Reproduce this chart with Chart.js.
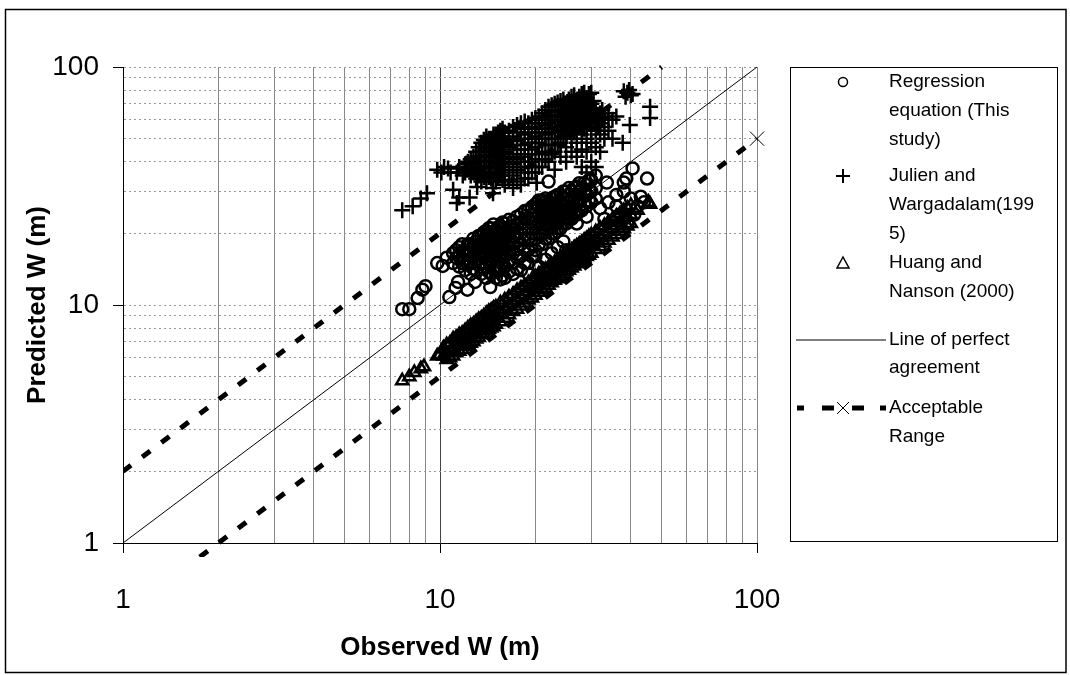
<!DOCTYPE html>
<html><head><meta charset="utf-8">
<script src="https://cdn.jsdelivr.net/npm/chart.js@4.4.1/dist/chart.umd.min.js"></script>
<style>html,body{margin:0;padding:0;background:#fff;}#wrap{position:relative;width:1070px;height:675px;}</style>
</head><body><div id="wrap"><canvas id="c" width="1070" height="675"></canvas></div>
<script>
const axisTickValues = [1,2,3,4,5,6,7,8,9,10,20,30,40,50,60,70,80,90,100];
const majorTickValues = [1,10,100];
const xTitle = "Observed W (m)";
const yTitle = "Predicted W (m)";
const seriesNames = ["Regression equation (This study)", "Julien and Wargadalam(1995)", "Huang and Nanson (2000)", "Line of perfect agreement", "Acceptable Range"];
const legendTextLines = [["Regression","equation (This","study)"],["Julien and","Wargadalam(199","5)"],["Huang and","Nanson (2000)"],["Line of perfect","agreement"],["Acceptable","Range"]];

const regressionPts = [
[7.6,9.6],[8.0,9.6],[8.5,10.7],[8.8,11.6],[9.0,12.0],[9.8,15.0],[10.2,14.6],[10.5,15.8],[10.7,10.8],[11.2,11.8],[11.4,12.5],[12.2,11.6],[12.9,12.5],[14.4,11.9],
[11,15],[11,16.5],[11.5,14.5],[11.5,16],[11.5,17.5],[12,14],[12,15.5],[12,17],[12.5,13.5],[12.5,15],[12.5,16.5],[12.5,18],
[13,14],[13,15.5],[13,17],[13,18.5],[13.5,13.5],[13.5,15],[13.5,16.5],[13.5,18],[13.5,19.5],
[14,13],[14,14.5],[14,16],[14,17.5],[14,19],[14,20.5],[14.5,13.5],[14.5,15],[14.5,16.5],[14.5,18],[14.5,19.5],[14.5,21],
[15,13],[15,14.5],[15,16],[15,17.5],[15,19],[15,20.5],[15.5,12.8],[15.5,14],[15.5,15.5],[15.5,17],[15.5,18.5],[15.5,20],[15.5,21.5],
[16,13],[16,14.5],[16,16],[16,17.5],[16,19],[16,20.5],[16,22],[17,13.5],[17,15],[17,16.5],[17,18],[17,19.5],[17,21],[17,22.5],
[18,14],[18,16],[18,18],[18,20],[18,22],[18,24],[19,15],[19,17],[19,19],[19,21],[19,23],[19,25],
[20,17],[20,19],[20,21],[20,23],[20,25],[20,26.5],[21,18],[21,20],[21,22],[21,24],[21,26],[21,27.5],
[22,19],[22,21],[22,23],[22,25],[22,27],[23,20],[23,22],[23,24],[23,26],[23,28.5],[24,21],[24,23],[24,25],[24,27],[24,29],
[25,22],[25,24],[25,26],[25,28],[25,30],[26,23],[26,25],[26,27.5],[26,30],[27,24],[27,26.5],[27,29],[27,31.5],
[28,25],[28,28],[28,31],[29,26],[29,29],[29,32],[30,27],[30,30],[30,33.5],[31,28],[31,31],[31,35],
[11.25,15.8],[11.25,17],[11.75,15],[11.75,16.8],[11.75,18],[12.25,14.8],[12.25,16.2],[12.25,18],
[12.75,14.2],[12.75,15.8],[12.75,17.5],[12.75,19],[13.25,14.8],[13.25,16.2],[13.25,17.8],[13.25,19.5],
[13.75,14.2],[13.75,15.8],[13.75,17.2],[13.75,18.8],[13.75,20.2],[14.25,13.8],[14.25,15.2],[14.25,16.8],[14.25,18.2],[14.25,19.8],[14.25,21],
[14.75,14.2],[14.75,15.8],[14.75,17.2],[14.75,18.8],[14.75,20.2],[14.75,21.8],[15.25,13.8],[15.25,15.2],[15.25,16.8],[15.25,18.2],[15.25,19.8],[15.25,21.2],
[15.75,13.3],[15.75,14.8],[15.75,16.2],[15.75,17.8],[15.75,19.2],[15.75,20.8],[15.75,22.2],
[16.5,13.8],[16.5,15.2],[16.5,16.8],[16.5,18.2],[16.5,19.8],[16.5,21.2],[16.5,22.8],
[17.5,14.2],[17.5,15.8],[17.5,17.2],[17.5,18.8],[17.5,20.2],[17.5,21.8],[17.5,23.5],
[18.5,15],[18.5,17],[18.5,19],[18.5,21],[18.5,23],[18.5,24.8],[19.5,16],[19.5,18],[19.5,20],[19.5,22],[19.5,24],[19.5,25.8],
[20.5,18],[20.5,20],[20.5,22],[20.5,24],[20.5,26],[20.5,27.5],[21.5,19],[21.5,21],[21.5,23],[21.5,25],[21.5,27],[21.5,28],
[22.5,20],[22.5,22],[22.5,24],[22.5,26],[22.5,28],[23.5,21],[23.5,23],[23.5,25],[23.5,27],[23.5,29],
[24.5,22],[24.5,24],[24.5,26],[24.5,28],[24.5,30],[25.5,23],[25.5,25],[25.5,27],[25.5,29],[25.5,31],
[26.5,24],[26.5,26],[26.5,28.5],[26.5,31],[27.5,25],[27.5,27.5],[27.5,30],[27.5,32.5],[28.5,26.5],[28.5,29.5],[28.5,32.5],[29.5,27.5],[29.5,30.5],[29.5,33.5],
[19,13.5],[19.5,12.5],[20,16],[20.5,14.5],[21,13],[21.5,15.5],[22.5,16.5],[23.5,17.5],[24.5,18.5],[25,17],
[22,33],[33.6,32.7],[38,32.7],[38.7,34],[40.5,37.5],[45,34],[38,30],[36,29],[34,27],[32,25.5],[40,28],[42,26],[37,24],[39,22],[41,24],[35,21],[33,23],[27,22],[29,23.5],[36,26],[43,28.5],[44,27]
];

const julienPts = [
[7.6,25],[8.2,26],[8.7,28],[9.1,29.5],[9.8,37],[10.1,36],[10.3,38],[10.6,37.5],[10.8,36],[11.3,36],[11.5,38],[11.8,35],[12.2,37],
[11,30.5],[11.5,28.3],[12.4,28.3],[11.3,26.8],[13.1,31.3],[14.7,29.5],[14.7,31],[20.2,26.8],[20.2,32.6],
[46,68],[46,61],[39.7,57],[37.7,48],[39,78],[38.5,75],[40,76],[39.5,80],[38,79],[40.5,77],
[12,36],[12,39],[12.5,35],[12.5,38],[12.5,41],[13,34],[13,37],[13,40],[13,44],[13.5,33],[13.5,36],[13.5,40],[13.5,44],[13.5,48],
[14,33],[14,36],[14,40],[14,44],[14,48],[14,51],[14.5,34],[14.5,38],[14.5,42],[14.5,46],[14.5,50],
[15,33],[15,36],[15,40],[15,44],[15,48],[15,52],[15.5,35],[15.5,39],[15.5,43],[15.5,47],[15.5,51],[15.5,54],
[16,32],[16,36],[16,40],[16,44],[16,48],[16,53],[17,31],[17,35],[17,39],[17,43],[17,47],[17,51],[17,56],
[18,32],[18,36],[18,40],[18,45],[18,50],[18,55],[18,58],[19,34],[19,38],[19,43],[19,48],[19,53],[19,58],
[20,36],[20,41],[20,46],[20,51],[20,56],[20,61],[21,38],[21,44],[21,50],[21,55],[21,60],[21,64],
[22,40],[22,47],[22,53],[22,58],[22,63],[22,68],[23,37],[23,44],[23,50],[23,56],[23,62],[23,70],
[24,42],[24,48],[24,54],[24,60],[24,66],[24,72],[25,40],[25,46],[25,52],[25,58],[25,64],[25,70],
[26,44],[26,50],[26,56],[26,62],[26,68],[26,75],[27,42],[27,48],[27,54],[27,60],[27,66],[27,72],
[28,38],[28,45],[28,52],[28,58],[28,64],[28,70],[28,77],[29,36],[29,44],[29,50],[29,56],[29,62],[29,68],[29,74],
[30,40],[30,48],[30,55],[30,62],[30,70],[30,78],[31,38],[31,46],[31,54],[31,60],[31,66],
[32,44],[32,52],[32,58],[32,64],[33,50],[33,56],[33,62],[34,54],[34,60],[34,64],[35,50],[35,60],[36,62],
[12.25,37.5],[12.25,40],[12.75,36],[12.75,39],[12.75,42],[13.25,35],[13.25,38],[13.25,42],[13.25,46],
[13.75,34.5],[13.75,38],[13.75,42],[13.75,46],[13.75,49.5],[14.25,34.5],[14.25,38],[14.25,42],[14.25,46],[14.25,50],
[14.75,35.5],[14.75,40],[14.75,44],[14.75,48],[14.75,52],[15.25,34.5],[15.25,38],[15.25,42],[15.25,46],[15.25,50],[15.25,53],
[15.75,33.5],[15.75,37],[15.75,41],[15.75,45],[15.75,49],[15.75,53],[15.75,55],
[16.5,33.5],[16.5,38],[16.5,42],[16.5,46],[16.5,50],[16.5,54],[17.5,33],[17.5,37],[17.5,41],[17.5,45],[17.5,49],[17.5,53],[17.5,57],
[18.5,34],[18.5,38],[18.5,42],[18.5,47],[18.5,52],[18.5,56],[18.5,59],[19.5,36],[19.5,40],[19.5,45],[19.5,50],[19.5,55],[19.5,60],
[20.5,38],[20.5,43],[20.5,48],[20.5,53],[20.5,58],[20.5,62],[21.5,41],[21.5,47],[21.5,52],[21.5,57],[21.5,62],[21.5,66],
[22.5,43],[22.5,50],[22.5,55],[22.5,60],[22.5,65],[22.5,69],[23.5,47],[23.5,53],[23.5,59],[23.5,65],[23.5,71],
[24.5,51],[24.5,57],[24.5,63],[24.5,69],[24.5,73],[25.5,55],[25.5,61],[25.5,67],[25.5,73],
[26.5,53],[26.5,59],[26.5,65],[26.5,71],[26.5,76],[27.5,57],[27.5,63],[27.5,69],[27.5,75],
[28.5,55],[28.5,61],[28.5,67],[28.5,73],[28.5,78],[29.5,59],[29.5,65],[29.5,71],[29.5,77],[30.5,58],[30.5,65],[30.5,72],[31.5,56],[31.5,63],[32.5,61],[32.5,66]
];

const huangPts = [
[7.6,4.8],[8.0,5.0],[8.3,5.2],[8.7,5.4],[8.9,5.5],[9.8,6.1],[10,6.2],
[10.5,5.9],[10.5,6.3],[10.5,6.8],[11,6.1],[11,6.6],[11,7.2],[11.5,6.4],[11.5,6.9],[11.5,7.5],[12,6.7],[12,7.2],[12,7.8],
[12.5,6.9],[12.5,7.5],[12.5,8.2],[13,7.2],[13,7.8],[13,8.5],[13.5,7.5],[13.5,8.1],[13.5,8.8],[14,7.8],[14,8.4],[14,9.2],
[14.5,8.0],[14.5,8.7],[14.5,9.5],[15,8.3],[15,9.0],[15,9.8],[16,8.8],[16,9.6],[16,10.5],[17,9.4],[17,10.2],[17,11.1],
[18,9.9],[18,10.8],[18,11.8],[19,10.5],[19,11.4],[19,12.4],[20,11.0],[20,12.0],[20,13.1],[21,11.6],[21,12.6],[21,13.8],
[22,12.1],[22,13.2],[22,14.4],[23,12.7],[23,13.8],[23,15.1],[24,13.2],[24,14.4],[24,15.7],[25,13.8],[25,15.0],[25,16.4],
[26,14.3],[26,15.6],[26,17.0],[27,14.9],[27,16.2],[27,17.7],[28,15.4],[28,16.8],[28,18.3],[29,16.0],[29,17.4],[29,19.0],
[30,16.5],[30,18.0],[30,19.7],[32,17.6],[32,19.2],[32,21.0],[34,18.7],[34,20.4],[34,22.3],[36,19.8],[36,21.6],[36,23.6],
[38,20.9],[38,22.8],[38,24.9],[40,22.0],[40,24.0],[40,26.2],[42,25],[45.5,27],[46,26.5],
[10.25,6.1],[10.25,6.6],[10.75,6.0],[10.75,6.4],[10.75,6.9],[11.25,6.3],[11.25,6.8],[11.25,7.3],[11.75,6.5],[11.75,7.0],[11.75,7.6],
[12.25,6.8],[12.25,7.3],[12.25,8.0],[12.75,7.0],[12.75,7.6],[12.75,8.3],[13.25,7.3],[13.25,8.0],[13.25,8.7],[13.75,7.6],[13.75,8.2],[13.75,9.0],
[14.25,7.9],[14.25,8.6],[14.25,9.4],[14.75,8.1],[14.75,8.9],[14.75,9.7],[15.5,8.5],[15.5,9.3],[15.5,10.2],[16.5,9.1],[16.5,9.9],[16.5,10.8],
[17.5,9.6],[17.5,10.5],[17.5,11.5],[18.5,10.2],[18.5,11.1],[18.5,12.1],[19.5,10.7],[19.5,11.7],[19.5,12.8],[20.5,11.3],[20.5,12.3],[20.5,13.5],
[21.5,11.8],[21.5,12.9],[21.5,14.1],[22.5,12.4],[22.5,13.5],[22.5,14.8],[23.5,12.9],[23.5,14.1],[23.5,15.4],[24.5,13.5],[24.5,14.7],[24.5,16.1],
[25.5,14.0],[25.5,15.3],[25.5,16.7],[26.5,14.6],[26.5,15.9],[26.5,17.4],[27.5,15.1],[27.5,16.5],[27.5,18.0],[28.5,15.7],[28.5,17.1],[28.5,18.7],
[29.5,16.2],[29.5,17.7],[29.5,19.4],[31,17.1],[31,18.6],[31,20.3],[33,18.2],[33,19.8],[33,21.6],[35,19.3],[35,21.0],[35,22.9],
[37,20.4],[37,22.2],[37,24.2],[39,21.5],[39,23.4],[39,25.5]
];

const perfectLine = [[1,1],[100,100]];
const upperRange = [[1,2],[50,100]];
const lowerRange = [[1,0.5],[100,50]];

const toXY = a => a.map(p => ({x: p[0], y: p[1]}));

const frameLegendPlugin = {
  id: 'frameLegend',
  afterDraw(chart) {
    const ctx = chart.ctx;
    ctx.save();
    ctx.strokeStyle = '#000'; ctx.lineWidth = 1.5;
    ctx.strokeRect(5.5, 9.5, 1060.5, 663);
    const bx = 790, by = 67, bw = 267, bh = 474;
    ctx.lineWidth = 1;
    ctx.strokeRect(bx + 0.5, by + 0.5, bw, bh);
    const mx = 843, tx = 889;
    const rows = [[82,111,140],[176,205,234],[263,292],[340,368],[408,437]];
    ctx.fillStyle = '#000';
    ctx.font = '19px "Liberation Sans", Arial, sans-serif';
    ctx.textBaseline = 'middle';
    ctx.textAlign = 'left';
    legendTextLines.forEach((lines, i) => {
      lines.forEach((t, j) => ctx.fillText(t, tx, rows[i][j]));
    });
    ctx.strokeStyle = '#000';
    ctx.lineWidth = 1.5;
    ctx.beginPath(); ctx.arc(mx, rows[0][0], 4.5, 0, Math.PI*2); ctx.stroke();
    ctx.lineWidth = 2;
    ctx.beginPath(); ctx.moveTo(mx-7, rows[1][0]); ctx.lineTo(mx+7, rows[1][0]);
    ctx.moveTo(mx, rows[1][0]-7); ctx.lineTo(mx, rows[1][0]+7); ctx.stroke();
    ctx.lineWidth = 1.5;
    const ty = rows[2][0];
    ctx.beginPath(); ctx.moveTo(mx, ty-6); ctx.lineTo(mx+6, ty+5); ctx.lineTo(mx-6, ty+5); ctx.closePath(); ctx.stroke();
    ctx.lineWidth = 1;
    ctx.beginPath(); ctx.moveTo(796, rows[3][0]); ctx.lineTo(886, rows[3][0]); ctx.stroke();
    const dy = rows[4][0];
    ctx.lineWidth = 5;
    [[797,804],[822,834],[852,864],[880,886]].forEach(s => {
      ctx.beginPath(); ctx.moveTo(s[0], dy); ctx.lineTo(s[1], dy); ctx.stroke();
    });
    ctx.lineWidth = 1;
    ctx.beginPath(); ctx.moveTo(mx-6, dy-6); ctx.lineTo(mx+6, dy+6); ctx.moveTo(mx+6, dy-6); ctx.lineTo(mx-6, dy+6); ctx.stroke();
    ctx.restore();
  }
};

const isMajor = v => majorTickValues.includes(v);

new Chart(document.getElementById('c'), {
  type: 'scatter',
  data: {
    datasets: [
      { label: seriesNames[0], data: toXY(regressionPts), pointStyle: 'circle', pointRadius: 6, borderColor: '#000', backgroundColor: 'rgba(0,0,0,0)', borderWidth: 2.5, showLine: false },
      { label: seriesNames[1], data: toXY(julienPts), pointStyle: 'cross', pointRadius: 8, borderColor: '#000', backgroundColor: 'rgba(0,0,0,0)', borderWidth: 2.5, showLine: false },
      { label: seriesNames[2], data: toXY(huangPts), pointStyle: 'triangle', pointRadius: 7, borderColor: '#000', backgroundColor: 'rgba(0,0,0,0)', borderWidth: 2.5, showLine: false },
      { label: seriesNames[3], data: toXY(perfectLine), showLine: true, pointRadius: 0, borderColor: '#000', borderWidth: 1 },
      { label: seriesNames[4], data: toXY(upperRange), showLine: true, pointRadius: 0, borderColor: '#000', borderWidth: 5, borderDash: [10, 14], clip: {left: 0, top: 6, right: 0, bottom: 0} },
      { label: seriesNames[4], data: toXY(lowerRange), showLine: true, pointRadius: [0, 10], pointStyle: 'crossRot', pointBorderWidth: 1, borderColor: '#000', backgroundColor: 'rgba(0,0,0,0)', borderWidth: 5, borderDash: [10, 14], clip: {left: 0, top: 0, right: 14, bottom: 14} }
    ]
  },
  options: {
    responsive: false, animation: false, devicePixelRatio: 1,
    layout: { padding: { left: 0, top: 67, right: 313, bottom: 0 } },
    plugins: { legend: { display: false }, tooltip: { enabled: false } },
    elements: { line: { tension: 0 } },
    scales: {
      x: {
        type: 'logarithmic', min: 1, max: 100,
        afterBuildTicks: s => { s.ticks = axisTickValues.map(v => ({value: v})); },
        afterFit: s => { s.height = 132; },
        ticks: { autoSkip: false, maxRotation: 0, padding: 30, color: '#000',
          font: { family: '"Liberation Sans", Arial, sans-serif', size: 28 },
          callback: v => isMajor(v) ? String(v) : '' },
        grid: { color: c => (c.tick && c.tick.value === 10) ? '#444' : '#888', lineWidth: 1, tickLength: 10,
          tickColor: c => (c.tick && isMajor(c.tick.value)) ? '#000' : 'rgba(0,0,0,0)' },
        border: { display: true, color: '#000', width: 1 },
        title: { display: true, text: xTitle, color: '#000', padding: { top: 0, bottom: 12 },
          font: { family: '"Liberation Sans", Arial, sans-serif', size: 26, weight: 'bold', lineHeight: 1.2 } }
      },
      y: {
        type: 'logarithmic', min: 1, max: 100,
        afterBuildTicks: s => { s.ticks = axisTickValues.map(v => ({value: v})); },
        afterFit: s => { s.width = 123; },
        ticks: { autoSkip: false, padding: 14, color: '#000',
          font: { family: '"Liberation Sans", Arial, sans-serif', size: 28 },
          callback: v => isMajor(v) ? String(v) : '' },
        grid: { color: '#999', lineWidth: 1, tickLength: 10,
          tickColor: c => (c.tick && isMajor(c.tick.value)) ? '#000' : 'rgba(0,0,0,0)' },
        border: { display: true, color: '#000', width: 1, dash: [2, 3] },
        title: { display: true, text: yTitle, color: '#000', padding: { top: 22, bottom: 0 },
          font: { family: '"Liberation Sans", Arial, sans-serif', size: 26, weight: 'bold', lineHeight: 1.2 } }
      }
    }
  },
  plugins: [frameLegendPlugin]
});
</script></body></html>
